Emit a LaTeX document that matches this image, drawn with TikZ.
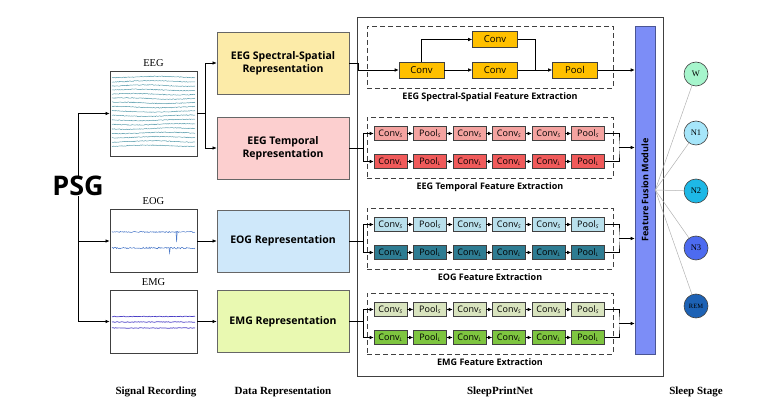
\documentclass[tikz,border=0pt]{standalone}
\usepackage{fontspec}
\setmainfont{Liberation Serif}
\setsansfont{Open Sans}
\usetikzlibrary{positioning, calc, arrows.meta}

\definecolor{ssrepfill}{HTML}{FCEBA8}
\definecolor{trepfill}{HTML}{FCCFCF}
\definecolor{orepfill}{HTML}{CFE8FA}
\definecolor{mrepfill}{HTML}{E9F9B1}
\definecolor{ssfill}{HTML}{FFC000}
\definecolor{tsfill}{HTML}{F4A3A0}
\definecolor{tlfill}{HTML}{F05A5A}
\definecolor{osfill}{HTML}{B9E0EC}
\definecolor{olfill}{HTML}{2E7C92}
\definecolor{msfill}{HTML}{D9E4BF}
\definecolor{mlfill}{HTML}{7EC540}
\definecolor{fusionfill}{HTML}{7C8DF7}
\definecolor{wfill}{HTML}{A6F5CC}
\definecolor{nonefill}{HTML}{A6E6FA}
\definecolor{ntwofill}{HTML}{1EB8E6}
\definecolor{nthreefill}{HTML}{4D6BF0}
\definecolor{remfill}{HTML}{1D62B5}
\definecolor{eegwave}{HTML}{5E9FAE}
\definecolor{eogwave}{HTML}{4A78C8}
\definecolor{emgwave}{HTML}{4B3FC6}
\definecolor{frame}{HTML}{404040}

\newcommand{\repfont}{\sffamily\bfseries\fontsize{10.5}{13}\selectfont}
\newcommand{\blkfont}{\sffamily\fontsize{9}{10}\selectfont}
\newcommand{\dlabfont}{\sffamily\bfseries\fontsize{9}{10}\selectfont}
\newcommand{\capfont}{\rmfamily\bfseries\fontsize{11}{13}\selectfont}
\newcommand{\subS}{\textsubscript{\itshape\fontsize{5}{5}\selectfont S}}
\newcommand{\subL}{\textsubscript{\itshape\fontsize{5}{5}\selectfont L}}

\begin{document}
\begin{tikzpicture}[x=1pt, y=-1pt,
    arr/.style={-{Latex[length=4pt, width=3.5pt]}, line width=0.6pt},
    sig/.style={draw=frame, line width=0.8pt, minimum width=87pt, inner sep=0pt},
    siglab/.style={font=\rmfamily\fontsize{10.5}{12}\selectfont, inner sep=1pt},
    rep/.style={draw=frame!80, line width=0.7pt, minimum width=132pt, minimum height=62pt, align=center, font=\repfont},
    dbox/.style={draw=frame, line width=0.9pt, dash pattern=on 5pt off 3pt, minimum width=246pt},
    dlab/.style={font=\dlabfont, inner sep=1pt},
    blk/.style={draw=frame, line width=0.6pt, minimum width=33pt, minimum height=14pt, inner sep=0pt, font=\blkfont},
    bigblk/.style={blk, fill=ssfill, minimum width=45pt, minimum height=16pt, font=\sffamily\fontsize{9.5}{10}\selectfont},
    stage/.style={circle, draw=frame, line width=0.6pt, minimum size=24pt, inner sep=0pt, font=\rmfamily\fontsize{8.5}{9}\selectfont},
    caption/.style={font=\capfont}
    ]
    \useasboundingbox (0,0) rectangle (760,406);

    % Signal recording
    \node[font=\sffamily\bfseries\fontsize{27}{30}\selectfont, inner sep=0pt] (psg) at (78,186) {PSG};
    \node[sig, minimum height=85pt] (eegsig) at (153.5,113.5) {};
    \node[sig, minimum height=63pt] (eogsig) at (153.5,241) {};
    \node[sig, minimum height=63pt] (emgsig) at (153.5,321.5) {};
    \node[siglab, above=3pt of eegsig] (eeglab) {EEG};
    \node[siglab, above=3pt of eogsig] (eoglab) {EOG};
    \node[siglab, above=3pt of emgsig] (emglab) {EMG};

    % waveforms
    \pgfmathsetseed{17}
    \foreach \k in {0,...,16}
        \draw[eegwave, line width=0.5pt] plot[domain=112:195, samples=110]
            (\x, {77 + \k*4.3 + 0.7*sin(4*\x + 25*\k) + 0.35*rand});
    \draw[eogwave, line width=0.5pt] plot[domain=112:195, samples=110] (\x, {232 + 0.6*rand});
    \draw[eogwave, line width=0.5pt] plot[domain=112:195, samples=110] (\x, {248 + 0.8*rand});
    \draw[eogwave, line width=0.5pt] (176,232) -- (176.6,242) -- (177.2,232);
    \draw[eogwave, line width=0.5pt] (169,248) -- (169.6,253) -- (170.2,248);
    \foreach \yy in {316.5, 322, 328}
        \draw[emgwave, line width=0.7pt] plot[domain=112:195, samples=70] (\x, {\yy + 0.35*rand});

    \draw[arr] (psg.north) |- (eegsig.west);
    \draw[arr] (psg.south) |- (emgsig.west);
    \draw[arr] (psg.south |- eogsig.west) -- (eogsig.west);

    % Data representation
    \node[rep, fill=ssrepfill] (ssrep) at (283,63) {EEG Spectral-Spatial\\Representation};
    \node[rep, fill=trepfill] (trep) at (283,148) {EEG Temporal\\Representation};
    \node[rep, fill=orepfill] (orep) at (283,241) {EOG Representation};
    \node[rep, fill=mrepfill] (mrep) at (283,321.5) {EMG Representation};

    \draw (eegsig.east) -- ++(8,0) coordinate (eegsplit);
    \draw[arr] (eegsplit) |- (ssrep.west);
    \draw[arr] (eegsplit) |- (trep.west);
    \draw[arr] (eogsig.east) -- (orep.west);
    \draw[arr] (emgsig.east) -- (mrep.west);

    % SleepPrintNet
    \node[draw=frame, line width=0.8pt, minimum width=306pt, minimum height=359pt] (net) at (510,196.5) {};
    \node[draw=fusionfill!60!black, fill=fusionfill, line width=0.6pt, minimum width=20pt, minimum height=328pt] (fusion) at (645,190) {};
    \node[rotate=90, font=\sffamily\bfseries\fontsize{9}{10}\selectfont] (fusionlab) at (fusion) {Feature Fusion Module};

    % spectral-spatial branch
    \node[dbox, minimum height=62pt] (ssbox) at (490,57) {};
    \node[dlab, below=3pt of ssbox] (sslab) {EEG Spectral-Spatial Feature Extraction};
    \node[bigblk] (sconva) at (421.5,70) {Conv};
    \node[bigblk] (sconvb) at (495,39.5) {Conv};
    \node[bigblk] (sconvc) at (495,70) {Conv};
    \node[bigblk] (spool) at (575,70) {Pool};
    \draw[arr] (ssrep.east) -- ++(9,0) |- (sconva.west);
    \draw[arr] (sconva.north) |- (sconvb.west);
    \draw[arr] (sconva.east) -- (sconvc.west);
    \draw (sconvb.east) -| ($(sconvc.east)!0.5!(spool.west)$);
    \draw[arr] (sconvc.east) -- (spool.west);
    \draw[arr] (spool.east) -- (spool.east -| fusion.west);

    % temporal branches
    \foreach \br/\cy/\fs/\fl/\lab in {t/147.5/tsfill/tlfill/EEG Temporal Feature Extraction,
                                     o/238.5/osfill/olfill/EOG Feature Extraction,
                                     m/323.5/msfill/mlfill/EMG Feature Extraction} {
        \node[dbox, minimum height=61pt] (\br box) at (490,\cy) {};
        \node[dlab, below=3pt of \br box] (\br lab) {\lab};
        \foreach \txt [count=\i] in {Conv,Pool,Conv,Conv,Conv,Pool} {
            \node[blk, fill=\fs] (\br s\i) at ({390.5+(\i-1)*39.5}, {\cy-14}) {\txt\subS};
            \node[blk, fill=\fl] (\br l\i) at ({390.5+(\i-1)*39.5}, {\cy+14}) {\txt\subL};
        }
        \foreach \i [evaluate=\i as \j using int(\i+1)] in {1,...,5} {
            \draw[arr] (\br s\i) -- (\br s\j);
            \draw[arr] (\br l\i) -- (\br l\j);
        }
        \draw (\br rep.east) -- ++(14,0) coordinate (\br in);
        \draw[arr] (\br in) |- (\br s1);
        \draw[arr] (\br in) |- (\br l1);
        \coordinate (\br out) at ($(\br s6.east)!0.5!(\br l6.east)+(14,0)$);
        \draw (\br s6.east) -| (\br out) |- (\br l6.east);
        \draw[arr] (\br out) -- (\br out -| fusion.west);
    }

    % Sleep stages
    \foreach \nm/\lab/\yy/\col in {w/W/74/wfill, none/N1/133/nonefill, ntwo/N2/191/ntwofill,
                                   nthree/N3/248/nthreefill, rem/{\fontsize{6.5}{7}\selectfont REM}/306/remfill} {
        \node[stage, fill=\col] (\nm) at (696,\yy) {\lab};
        \draw[gray!60, line width=0.5pt] (fusion.east) -- (\nm);
    }

    % captions
    \node[caption] (capsig) at (156,392) {Signal Recording};
    \node[caption] (caprep) at (283,392) {Data Representation};
    \node[caption] (capnet) at (500,392) {SleepPrintNet};
    \node[caption] (capstage) at (696,392) {Sleep Stage};
\end{tikzpicture}
\end{document}
